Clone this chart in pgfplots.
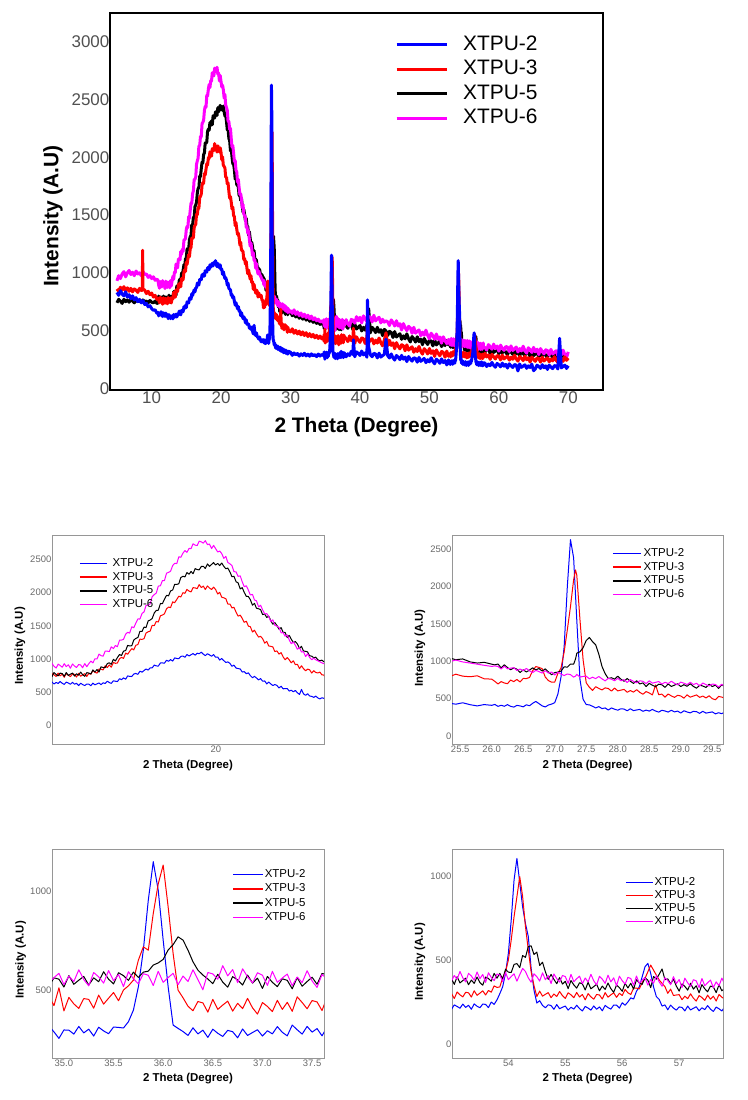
\documentclass[border=0pt]{standalone}
\usepackage{fontspec}
\setmainfont{Liberation Sans}
\usepackage{pgfplots}
\usepackage{pgfplotstable}
\pgfplotsset{compat=1.18}
\definecolor{tickgray}{RGB}{80,80,80}
\definecolor{ptick}{RGB}{105,105,105}
\definecolor{pframe}{RGB}{150,150,150}
\definecolor{xb}{RGB}{0,0,255}
\definecolor{xr}{RGB}{255,0,0}
\definecolor{xm}{RGB}{255,0,255}
\pgfkeys{/pgfplots/leglen/.initial=28bp}

\pgfplotstableread{
x b r k m
5.00 830 860 740 930
5.25 805 840 770 975
5.50 845 875 755 950
5.75 815 850 735 990
6.00 800 880 770 1010
6.25 835 845 750 965
6.50 790 870 765 1000
6.75 810 840 745 1020
7.00 775 865 770 985
7.25 800 835 755 1005
7.50 765 860 740 975
7.75 785 850 765 1015
8.00 750 830 750 990
8.25 770 865 760 1000
8.50 740 845 745 975
8.65 755 850 755 995
8.70 750 1195 760 1000
8.75 760 860 765 1010
9.00 725 850 750 985
9.25 735 820 755 990
9.50 705 840 740 960
9.75 715 810 760 975
10.00 690 825 745 950
10.25 675 790 740 965
10.50 680 805 755 935
10.75 650 770 735 945
10.90 657 781 737 936
11.01 627 765 798 893
11.13 649 740 769 866
11.24 634 789 748 924
11.35 663 749 790 905
11.47 637 774 783 878
11.58 621 727 742 932
11.69 654 784 799 888
11.81 641 757 754 915
11.92 622 737 774 863
12.04 651 777 791 927
12.15 623 771 745 897
12.26 637 731 780 874
12.38 603 786 758 919
12.49 638 743 806 912
12.60 618 764 766 870
12.72 603 782 742 933
12.83 626 739 797 886
12.94 625 784 791 930
13.06 601 773 776 970
13.17 639 830 838 944
13.28 614 802 807 1004
13.40 629 789 843 1003
13.51 642 851 805 1076
13.62 617 849 885 1052
13.74 644 837 874 1044
13.85 634 900 872 1120
13.97 669 874 933 1120
14.08 648 913 945 1112
14.19 636 879 922 1185
14.31 675 950 998 1159
14.42 668 937 972 1205
14.53 663 942 1023 1186
14.65 706 1007 1070 1284
14.76 691 1026 1055 1287
14.87 718 1011 1120 1297
14.99 698 1091 1129 1376
15.10 748 1073 1207 1402
15.21 741 1117 1198 1391
15.33 739 1158 1202 1486
15.44 776 1139 1287 1471
15.55 785 1207 1311 1539
15.67 771 1220 1325 1604
15.78 819 1300 1417 1602
15.90 804 1297 1417 1687
16.01 829 1307 1482 1709
16.12 852 1392 1474 1807
16.24 835 1411 1575 1811
16.35 870 1420 1587 1831
16.46 869 1507 1610 1939
16.58 911 1504 1695 1970
16.69 898 1567 1732 1993
16.80 895 1557 1735 2097
16.92 942 1652 1836 2103
17.03 943 1662 1834 2180
17.14 939 1680 1898 2178
17.26 984 1757 1959 2292
17.37 967 1782 1951 2303
17.48 993 1774 2023 2320
17.60 971 1860 2039 2406
17.71 1018 1848 2124 2440
17.83 1010 1898 2122 2436
17.94 1006 1946 2133 2538
18.05 1041 1933 2225 2530
18.17 1047 1998 2245 2592
18.28 1027 1989 2235 2631
18.39 1069 2047 2301 2604
18.51 1048 2022 2276 2663
18.62 1066 2010 2317 2661
18.73 1083 2074 2283 2733
18.85 1060 2070 2360 2712
18.96 1089 2058 2346 2706
19.07 1081 2119 2341 2772
19.19 1105 2075 2392 2762
19.30 1075 2097 2395 2743
19.41 1053 2046 2363 2780
19.53 1081 2100 2430 2720
19.64 1064 2069 2394 2730
19.76 1043 2046 2423 2661
19.87 1069 2082 2450 2709
19.98 1029 2047 2413 2662
20.10 1031 1978 2438 2609
20.21 986 2004 2406 2624
20.32 1009 1931 2444 2587
20.44 977 1921 2394 2513
20.55 950 1908 2358 2544
20.66 958 1828 2368 2453
20.78 936 1827 2308 2431
20.89 892 1769 2238 2406
21.00 910 1779 2245 2315
21.12 865 1705 2162 2310
21.23 859 1646 2146 2243
21.35 852 1661 2055 2251
21.46 806 1612 2074 2162
21.57 812 1553 2004 2089
21.69 781 1569 1941 2102
21.80 794 1496 1941 2037
21.91 753 1487 1893 1964
22.03 720 1407 1810 1972
22.14 741 1435 1838 1889
22.25 717 1380 1765 1876
22.37 688 1331 1756 1785
22.48 708 1343 1745 1810
22.59 669 1308 1670 1741
22.71 672 1240 1677 1678
22.82 628 1266 1626 1684
22.93 655 1198 1646 1643
23.05 627 1192 1578 1564
23.16 603 1183 1524 1591
23.27 619 1114 1550 1509
23.39 604 1123 1504 1495
23.50 567 1076 1450 1479
23.62 593 1097 1473 1395
23.73 554 1034 1404 1399
23.84 557 991 1401 1344
23.96 558 1024 1324 1364
24.07 520 989 1357 1289
24.18 533 945 1300 1231
24.30 509 975 1250 1258
24.41 530 917 1264 1208
24.52 495 923 1229 1149
24.64 470 857 1160 1172
24.75 545 900 1192 1107
24.86 479 858 1122 1112
24.98 456 824 1117 1039
25.09 480 850 1109 1081
25.20 447 840 1050 1025
25.32 440 790 1045 990
25.43 425 826 1020 1015
25.54 444 800 1030 990
25.66 418 792 990 975
25.77 402 805 975 960
25.88 420 765 985 945
26.00 410 760 960 930
26.05 422 730 951 937
26.10 396 696 962 929
26.15 411 727 911 896
26.20 397 709 951 933
26.25 419 699 915 898
26.30 397 748 886 907
26.35 386 727 910 913
26.40 409 756 894 876
26.45 402 722 849 896
26.50 390 769 884 874
26.55 417 768 856 903
26.60 404 782 881 871
26.65 437 873 911 848
26.70 462 928 884 877
26.75 433 917 902 861
26.80 403 900 868 841
26.85 388 787 897 873
26.90 414 741 857 841
26.95 426 719 819 855
27.00 445 720 848 815
27.05 560 836 854 853
27.10 790 909 867 828
27.15 1200 1125 925 808
27.20 2000 1420 920 829
27.25 2625 1730 962 820
27.30 2380 2090 960 787
27.33 1880 2220 1030 800
27.35 1550 2150 1106 824
27.40 760 1560 1126 788
27.45 490 1020 1180 796
27.50 420 710 1277 799
27.55 416 651 1317 764
27.60 397 609 1261 786
27.65 375 659 1218 767
27.70 393 636 1093 796
27.75 366 616 930 764
27.80 375 643 833 737
27.85 347 635 768 772
27.90 375 600 779 758
27.95 358 640 760 738
28.00 345 603 799 771
28.05 364 613 760 738
28.10 360 623 731 753
28.15 337 585 768 715
28.20 364 607 732 754
28.25 339 587 703 730
28.30 348 619 738 711
28.35 355 583 696 738
28.40 330 558 710 731
28.45 346 594 661 700
28.50 333 575 704 738
28.55 355 549 678 706
28.60 334 683 660 717
28.65 319 552 692 728
28.70 344 560 685 694
28.75 334 519 650 718
28.80 320 561 696 701
28.85 344 536 662 732
28.90 322 516 680 704
28.95 333 544 697 684
29.00 307 535 661 720
29.05 337 506 686 706
29.10 321 550 664 687
29.15 309 519 699 719
29.20 329 534 663 688
29.25 325 549 639 704
29.30 303 516 679 668
29.35 330 534 668 708
29.40 306 509 649 686
29.45 314 537 693 668
29.50 322 499 661 695
29.55 296 484 680 688
29.60 311 529 636 655
29.65 298 520 684 692
29.70 320 504 658 658
30.00 312 488 662 671
30.25 285 515 628 648
30.50 306 476 651 679
30.75 290 502 617 640
31.00 301 470 640 662
31.25 279 495 606 629
31.50 298 462 628 652
31.75 284 488 598 620
32.00 303 457 619 641
32.25 280 481 590 612
32.50 295 448 607 633
32.75 277 473 580 602
33.00 298 445 598 625
33.25 281 466 571 594
33.50 292 437 586 610
33.75 274 458 562 585
34.00 296 431 575 598
34.25 279 452 553 574
34.50 293 428 566 583
34.75 283 446 545 568
34.80 279 409 539 594
34.85 315 466 518 538
34.90 285 419 561 562
34.95 252 510 554 584
35.00 295 392 514 526
35.05 294 461 572 570
35.10 274 428 528 542
35.15 313 405 549 602
35.20 280 455 568 552
35.25 299 451 524 520
35.30 264 406 561 588
35.35 309 473 541 566
35.40 290 427 592 534
35.45 276 457 554 598
35.50 310 486 530 546
35.55 308 444 587 578
35.60 305 499 572 516
35.65 337 520 548 592
35.70 396 549 590 556
35.75 515 651 563 530
35.80 702 719 590 582
35.85 957 702 595 574
35.90 1153 889 626 522
35.95 1008 1040 637 594
36.00 753 1136 655 538
36.05 515 923 703 562
36.10 320 685 730 584
36.15 303 498 770 526
36.20 287 459 753 570
36.25 267 416 702 542
36.30 306 393 643 602
36.35 275 440 600 552
36.40 294 433 575 500
36.45 257 386 555 588
36.50 299 451 531 581
36.55 278 400 579 554
36.60 262 422 539 623
36.65 293 442 513 571
36.70 286 391 567 603
36.75 255 431 550 536
36.80 300 404 524 607
36.85 267 456 575 566
36.90 282 408 534 535
36.95 296 376 559 587
37.00 264 435 507 574
37.05 291 415 568 522
37.10 275 389 538 594
37.15 312 446 516 538
37.20 283 400 556 560
37.25 265 436 548 580
37.30 320 390 505 521
37.35 296 464 562 565
37.40 274 435 518 537
37.45 313 403 542 597
37.50 284 445 564 545
37.55 302 438 528 512
37.60 265 394 583 578
37.65 309 461 578 556
37.75 305 448 572 541
38.00 272 430 542 594
38.25 299 404 519 559
38.50 283 453 557 538
38.75 320 412 548 597
39.00 291 437 506 585
39.05 420 520 560 590
39.25 273 389 558 564
39.50 315 445 513 620
39.75 303 418 529 584
40.00 284 397 543 614
40.25 322 436 496 566
40.50 289 429 528 627
40.75 307 387 503 599
41.00 269 441 547 578
41.08 765 560 560 620
41.25 360 397 690 621
41.50 290 415 480 615
41.75 273 429 528 574
42.00 303 384 510 632
42.25 296 416 482 584
42.50 263 391 528 601
42.75 304 435 485 615
43.00 270 394 507 566
43.25 282 368 456 597
43.50 293 416 510 572
43.75 425 480 495 585
44.00 281 370 457 574
44.25 262 415 493 543
44.50 297 371 483 592
44.75 265 393 440 570
45.00 244 342 491 539
45.25 284 395 444 585
45.50 269 364 459 539
45.75 248 341 472 559
46.00 285 377 424 505
46.25 252 368 454 560
46.50 270 325 428 526
46.75 231 376 471 499
47.00 275 330 429 536
47.25 252 346 401 523
47.50 235 359 448 476
47.75 264 312 429 528
48.00 258 343 400 477
48.25 226 318 446 493
48.50 267 362 404 505
48.75 233 321 426 455
49.00 246 295 377 486
49.25 258 343 431 459
49.50 222 325 402 503
49.75 247 297 379 458
50.00 229 344 417 428
50.25 264 302 409 477
50.50 232 325 367 455
50.75 212 276 420 424
51.00 252 332 375 470
51.25 238 303 392 424
51.50 216 281 407 444
51.75 254 319 361 390
52.00 222 311 393 446
52.25 240 269 370 412
52.50 202 322 415 386
52.75 245 277 376 423
53.00 206 301 390 374
53.05 233 271 355 408
53.10 224 310 401 386
53.15 213 293 364 432
53.20 238 281 378 394
53.25 218 308 392 370
53.30 231 305 353 421
53.35 207 280 381 405
53.40 239 317 361 380
53.45 225 290 399 429
53.50 216 303 366 389
53.55 238 317 350 414
53.60 236 292 399 367
53.65 217 319 390 424
53.70 250 309 374 397
53.75 236 346 421 377
53.80 263 337 392 417
53.85 300 340 421 411
53.90 341 395 387 371
53.95 421 430 445 426
54.00 540 500 428 383
54.05 738 619 426 402
54.10 976 758 474 418
54.15 1105 877 479 374
54.20 960 996 455 413
54.25 817 880 527 450
54.30 718 700 516 432
54.35 640 560 580 394
54.40 450 430 585 368
54.45 321 348 533 418
54.50 244 283 547 401
54.55 258 315 468 375
54.60 230 285 487 424
54.65 216 296 430 383
54.70 234 306 385 408
54.75 229 276 414 360
54.80 207 298 385 417
54.85 235 283 359 389
54.90 210 313 396 369
54.95 219 288 357 408
55.00 226 272 373 402
55.05 202 305 330 361
55.10 219 293 378 415
55.15 208 276 352 371
55.20 231 307 333 389
55.25 211 280 365 404
55.30 197 295 358 359
55.35 224 263 322 393
55.40 214 300 367 370
55.45 202 281 329 415
55.50 227 267 342 376
55.55 207 295 356 352
55.60 221 292 317 403
55.65 198 268 345 386
55.70 230 306 325 361
55.75 217 279 363 410
55.80 208 293 330 370
55.85 232 305 308 394
55.90 232 278 351 347
55.95 214 302 336 404
56.00 246 289 314 377
56.05 231 325 362 357
56.10 251 305 334 397
56.15 275 295 362 390
56.20 268 334 327 350
56.25 314 333 383 405
56.30 341 328 365 361
56.35 400 366 355 380
56.40 460 391 395 395
56.45 480 430 380 351
56.50 421 470 336 384
56.55 340 440 402 362
56.60 282 410 386 407
56.65 265 381 416 369
56.70 226 361 447 344
56.75 233 342 383 395
56.80 204 302 388 378
56.85 232 327 358 353
56.90 214 289 387 401
56.95 202 292 345 360
57.00 221 294 315 384
57.05 218 264 358 336
57.10 197 285 343 392
57.15 226 270 321 364
57.20 203 299 362 344
57.25 213 273 327 383
57.30 222 256 347 376
57.35 198 289 305 336
57.40 216 277 354 390
57.45 205 260 329 347
57.50 229 291 311 365
57.55 208 267 345 381
57.60 194 285 340 336
57.65 220 256 306 370
57.70 210 295 353 347
57.75 197 279 317 393
57.80 221 267 332 355
58.00 218 304 312 354
58.25 188 271 342 331
58.50 210 289 335 378
58.75 195 250 303 361
59.00 224 294 344 338
59.25 198 272 310 382
59.50 182 254 323 344
59.75 215 284 335 366
60.00 203 278 300 321
60.25 186 246 325 373
60.50 218 288 306 347
60.75 191 254 341 328
61.00 207 267 310 362
61.25 175 279 290 356
61.50 212 244 329 318
61.75 194 269 315 367
62.00 180 251 294 327
62.25 205 286 332 342
62.50 201 255 299 357
62.75 150 235 317 314
63.00 210 275 279 344
63.25 181 261 323 323
63.50 192 240 300 364
63.75 203 278 283 327
64.00 173 247 313 304
64.25 194 265 307 351
64.50 180 227 275 334
64.75 209 271 317 310
65.00 152 250 283 354
65.25 167 233 296 316
65.50 200 264 308 338
65.75 189 258 273 292
66.00 172 227 298 344
66.25 204 270 280 318
66.50 178 236 315 298
66.75 194 250 284 333
67.00 163 263 265 326
67.25 201 229 305 288
67.50 183 254 291 337
67.75 170 237 270 297
68.00 196 273 308 311
68.25 193 243 276 325
68.50 167 224 295 282
68.75 432 265 262 311
69.00 176 253 301 289
69.25 189 233 280 330
69.50 200 272 263 293
69.75 172 242 294 269
70.00 195 261 288 315
}\xrd

\pgfplotsset{
  legimg/.style={legend image code/.code={\draw[##1] (0bp,0bp) -- (\pgfkeysvalueof{/pgfplots/leglen},0bp);}},
  panel/.style={
    scale only axis, anchor=south west,
    major tick length=0pt, scaled ticks=false,
    axis line style={draw=pframe, line width=0.8bp},
    tick label style={font=\fontsize{9.5}{9.5}\selectfont, text=ptick},
    /pgf/number format/assume math mode=true,
    /pgf/number format/1000 sep={},
    xticklabel style={inner sep=1.5bp},
    yticklabel style={inner sep=0.5bp},
    label style={font=\bfseries\fontsize{11.5}{11.5}\selectfont},
    xlabel={2 Theta (Degree)}, ylabel={Intensity (A.U)},
    legimg,
    legend style={anchor=north west, draw=none, fill=none, inner sep=0pt,
      font=\fontsize{11.5}{11.5}\selectfont, row sep=3bp,
      nodes={inner sep=0pt, text height=8.2bp, text depth=2.5bp}},
    legend cell align=left,
    every axis plot/.append style={line width=1bp, line join=round},
  },
}

\newcommand\panelplots{%
  \addlegendimage{xb, line width=1.5bp}\addlegendentry{XTPU-2}
  \addlegendimage{xr, line width=1.5bp}\addlegendentry{XTPU-3}
  \addlegendimage{black, line width=1.5bp}\addlegendentry{XTPU-5}
  \addlegendimage{xm, line width=1.5bp}\addlegendentry{XTPU-6}
  \addplot[xb, forget plot] table[x=x,y=b]{\xrd};
  \addplot[xr, forget plot] table[x=x,y=r]{\xrd};
  \addplot[black, forget plot] table[x=x,y=k]{\xrd};
  \addplot[xm, forget plot] table[x=x,y=m]{\xrd};
}

\begin{document}
\begin{tikzpicture}
\useasboundingbox (0,0) rectangle (748bp,1100bp);

% ---------------- top panel ----------------
\begin{axis}[
  at={(110bp,710bp)}, anchor=south west, scale only axis,
  width=493bp, height=377bp,
  xmin=4, xmax=75, ymin=-15, ymax=3250,
  xtick={10,20,...,70}, ytick={0,500,...,3000},
  major tick length=0pt, scaled ticks=false,
  axis line style={line width=1.8bp},
  tick label style={font=\fontsize{17}{17}\selectfont, text=tickgray},
  /pgf/number format/assume math mode=true,
  /pgf/number format/1000 sep={},
  xticklabel style={inner sep=1bp},
  yticklabel style={inner sep=0.5bp},
  xlabel={2 Theta (Degree)}, ylabel={Intensity (A.U)},
  label style={font=\bfseries\fontsize{21}{21}\selectfont},
  xlabel style={at={(axis description cs:0.5,-0.0981)}, anchor=center},
  ylabel style={at={(axis description cs:-0.1156,0.4615)}, anchor=center},
  leglen=50bp, legimg,
  legend style={at={(axis description cs:0.578,0.9416)}, anchor=north west,
    draw=none, fill=none, inner sep=0pt, font=\fontsize{21}{21}\selectfont,
    row sep=6.1bp, column sep=15bp,
    nodes={inner sep=0pt, text height=15bp, text depth=3.5bp}},
  legend cell align=left,
  every axis plot/.append style={line width=3bp, line join=round},
]
\addlegendimage{xb, line width=3bp}\addlegendentry{XTPU-2}
\addlegendimage{xr, line width=3bp}\addlegendentry{XTPU-3}
\addlegendimage{black, line width=3bp}\addlegendentry{XTPU-5}
\addlegendimage{xm, line width=3bp}\addlegendentry{XTPU-6}
\addplot[black, forget plot] table[x=x,y=k]{\xrd};
\addplot[xm, forget plot] table[x=x,y=m]{\xrd};
\addplot[xr, forget plot] table[x=x,y=r]{\xrd};
\addplot[xb, forget plot] table[x=x,y=b]{\xrd};
\end{axis}

% ---------------- panel 2: amorphous halo ----------------
\begin{axis}[panel, at={(52bp,356bp)}, width=272bp, height=209bp,
  xmin=10.9, xmax=26.0, ymin=-275, ymax=2865,
  xtick={20}, ytick={0,500,...,2500},
  restrict x to domain=10.5:26.5,
  xlabel style={at={(axis description cs:0.5,-0.104)}, anchor=center},
  ylabel style={at={(axis description cs:-0.118,0.469)}, anchor=center},
  leglen=27bp,
  legend style={at={(axis description cs:0.099,0.890)}, column sep=5bp, row sep=3bp},
]
\panelplots
\end{axis}

% ---------------- panel 3: 27 deg ----------------
\begin{axis}[panel, at={(452bp,356bp)}, width=271bp, height=209bp,
  xmin=25.37, xmax=29.67, ymin=-107, ymax=2687,
  xtick={25.5,26,26.5,27,27.5,28,28.5,29,29.5}, ytick={0,500,...,2500},
  xticklabel style={/pgf/number format/fixed, /pgf/number format/fixed zerofill, /pgf/number format/precision=1},
  restrict x to domain=25:30.2,
  xlabel style={at={(axis description cs:0.5,-0.105)}, anchor=center},
  ylabel style={at={(axis description cs:-0.118,0.459)}, anchor=center},
  leglen=28bp,
  legend style={at={(axis description cs:0.590,0.938)}, column sep=2bp, row sep=3bp},
]
\panelplots
\end{axis}

% ---------------- panel 4: 36 deg ----------------
\begin{axis}[panel, at={(52bp,42bp)}, width=272bp, height=209bp,
  xmin=34.88, xmax=37.62, ymin=152, ymax=1218,
  xtick={35,35.5,36,36.5,37,37.5}, ytick={500,1000},
  xticklabel style={/pgf/number format/fixed, /pgf/number format/fixed zerofill, /pgf/number format/precision=1},
  restrict x to domain=34.5:38,
  xlabel style={at={(axis description cs:0.5,-0.10)}, anchor=center},
  ylabel style={at={(axis description cs:-0.115,0.469)}, anchor=center},
  leglen=30bp,
  legend style={at={(axis description cs:0.662,0.904)}, column sep=1bp, row sep=3.6bp},
]
\panelplots
\end{axis}

% ---------------- panel 5: 54 deg ----------------
\begin{axis}[panel, at={(452bp,42bp)}, width=271bp, height=209bp,
  xmin=53.01, xmax=57.77, ymin=-83, ymax=1161,
  xtick={54,55,56,57}, ytick={0,500,1000},
  restrict x to domain=52.7:58.1,
  xlabel style={at={(axis description cs:0.5,-0.10)}, anchor=center},
  ylabel style={at={(axis description cs:-0.118,0.46)}, anchor=center},
  leglen=27bp,
  legend style={at={(axis description cs:0.638,0.866)}, column sep=1bp, row sep=2.3bp},
]
\panelplots
\end{axis}
\end{tikzpicture}
\end{document}
